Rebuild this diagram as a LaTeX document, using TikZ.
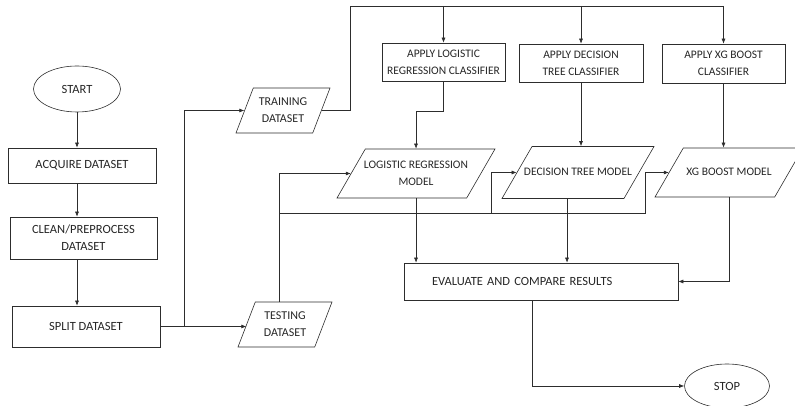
\documentclass[tikz,border=0pt]{standalone}
\usepackage{fontspec}
\setmainfont{Carlito}
\usetikzlibrary{positioning}
\usetikzlibrary{calc}
\usetikzlibrary{shapes.geometric}
\usetikzlibrary{arrows.meta}
\definecolor{mline}{RGB}{45,45,45}
\tikzset{terminal/.style={draw=mline, line width=0.6pt, ellipse, inner sep=0pt, align=center}}

\begin{document}
\begin{tikzpicture}[x=1pt, y=1pt, node distance=75pt,
    every node/.style={font=\fontsize{11.5}{17}\selectfont, text=black!85},
    bigtext/.style={font=\fontsize{12.5}{17}\selectfont},
    process/.style={draw=mline, line width=0.6pt, align=center},
    iobox/.style={draw=mline, line width=0.6pt, trapezium, trapezium left angle=69, trapezium right angle=111,
        trapezium stretches body, align=center, inner xsep=-10pt},
    modelbox/.style={iobox, trapezium left angle=60, trapezium right angle=120},
    oneline/.style={text height=8pt, text depth=1pt},
    twoline/.style={text height=25pt, text depth=1pt},
    arrow/.style={-{Latex[length=5pt, width=4pt]}, draw=mline, line width=0.6pt},
    wire/.style={draw=mline, line width=0.6pt},
]
\useasboundingbox (0,0) rectangle (795,406);

\node[terminal, bigtext, minimum width=87pt, minimum height=46pt] (start) at (77,317) {START};
\node[process, bigtext, below of=start, xshift=5pt, yshift=-1.5pt, minimum width=148pt, minimum height=35pt] (acquire) {ACQUIRE DATASET};
\node[process, bigtext, below of=acquire, xshift=1.5pt, yshift=2.5pt, minimum width=147pt, minimum height=42pt] (clean) {CLEAN/PREPROCESS\\DATASET};
\node[process, bigtext, below of=clean, xshift=2.5pt, yshift=-13.5pt, minimum width=148pt, minimum height=41pt] (split) {SPLIT DATASET};

\node[iobox, twoline, font=\fontsize{12}{17}\selectfont, right of=split, xshift=124pt, yshift=2pt, minimum width=94pt, inner ysep=9.5pt] (testing) {TESTING\\DATASET};
\node[iobox, twoline, font=\fontsize{12}{17}\selectfont, above of=testing, xshift=-2pt, yshift=139pt, minimum width=94pt, inner ysep=9.5pt] (training) {TRAINING\\DATASET};

\node[process, right of=training, xshift=85.5pt, yshift=48.5pt, minimum width=123pt, minimum height=38pt] (lrapply) {APPLY LOGISTIC\\REGRESSION CLASSIFIER};
\node[process, right of=lrapply, xshift=62.5pt, yshift=-1pt, minimum width=124pt, minimum height=38pt] (dtapply) {APPLY DECISION\\TREE CLASSIFIER};
\node[process, right of=dtapply, xshift=67.5pt, yshift=-0.5pt, minimum width=123pt, minimum height=39pt] (xgapply) {APPLY XG BOOST\\CLASSIFIER};

\node[modelbox, twoline, below of=lrapply, xshift=-27.5pt, yshift=-36.5pt, minimum width=158pt, inner ysep=11.5pt] (lrmodel) {LOGISTIC REGRESSION\\MODEL};
\node[modelbox, oneline, below of=dtapply, xshift=-3pt, yshift=-34.5pt, minimum width=152pt, inner ysep=21.5pt] (dtmodel) {DECISION TREE MODEL};
\node[modelbox, oneline, below of=xgapply, xshift=5.5pt, yshift=-34pt, minimum width=148pt, inner ysep=20pt] (xgmodel) {XG BOOST MODEL};

\node[process, bigtext, below of=dtmodel, xshift=-37pt, yshift=-34pt, minimum height=37pt, text width=218pt, inner xsep=28pt, align=left] (evaluate) {EVALUATE AND COMPARE RESULTS};
\node[terminal, bigtext, below of=evaluate, xshift=186pt, yshift=-29.5pt, minimum width=85pt, minimum height=44pt] (stop) {STOP};

\coordinate (splitfork) at ($(split.east)+(24,0)$);
\coordinate (trainup) at ($(training.east)+(28.5,0)$);
\coordinate (bustop) at ($(trainup)+(0,104.5)$);
\coordinate (lrbend) at ($(lrapply.south)+(0,-30)$);
\coordinate (testtop) at ($(testing.north)+(-6,0)$);
\coordinate (testbus) at ($(testtop)+(0,88)$);
\coordinate (dtfork) at ($(testbus)+(212,0)$);
\coordinate (xgfork) at ($(testbus)+(366,0)$);
\coordinate (dtout) at ($(dtmodel.south)+(-11,0)$);
\coordinate (evalout) at ($(evaluate.south)+(-9,0)$);

\draw[arrow] (start.south) -- (start.south |- acquire.north);
\draw[arrow] (acquire.south -| start) -- (clean.north -| start);
\draw[arrow] (clean.south -| start) -- (split.north -| start);

\draw[arrow] (split.east) -- (split.east -| testing.west);
\draw[arrow] (splitfork) |- (training.west);

\draw[wire] (training.east) -- (trainup) -- (bustop) -- (bustop -| xgapply.north);
\foreach \n in {lrapply, dtapply, xgapply}
    \draw[arrow] (bustop -| \n.north) -- (\n.north);

\draw[arrow] (lrapply.south) -- (lrbend) -| (lrmodel.north);
\draw[arrow] (dtapply.south) -- (dtapply.south |- dtmodel.north);
\draw[arrow] (xgapply.south) -- (xgapply.south |- xgmodel.north);

\draw[arrow] (testtop) |- (lrmodel.west);
\draw[wire] (testbus) -- (xgfork);
\draw[arrow] (dtfork) |- (dtmodel.west);
\draw[arrow] (xgfork) |- (xgmodel.west);

\draw[arrow] (lrmodel.south) -- (lrmodel.south |- evaluate.north);
\draw[arrow] (dtout) -- (dtout |- evaluate.north);
\draw[arrow] (xgmodel.south) |- (evaluate.east);
\draw[arrow] (evalout) |- (stop.west);

\end{tikzpicture}
\end{document}
